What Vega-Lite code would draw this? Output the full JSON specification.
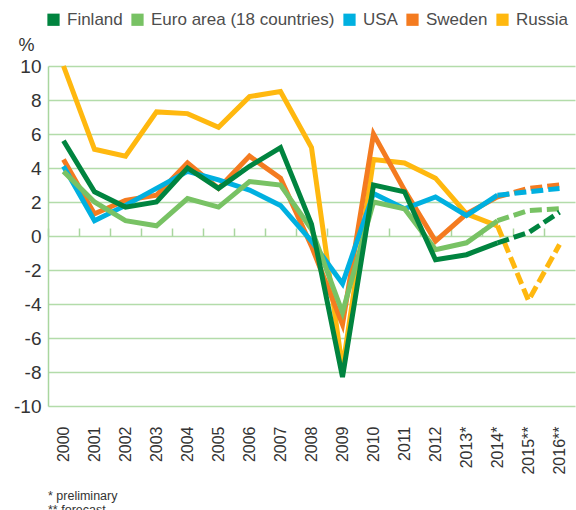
{
  "$schema": "https://vega.github.io/schema/vega-lite/v6.json",
  "autosize": {"type": "none"},
  "width": 527,
  "height": 340,
  "padding": {"left": 48, "top": 66, "right": 1, "bottom": 104},
  "config": {
    "font": "Liberation Sans",
    "view": {"stroke": null},
    "axis": {"labelFont": "Liberation Sans", "titleFont": "Liberation Sans"},
    "axisY": {"labelOverlap": false},
    "axisQuantitative": {"labelOverlap": false}
  },
  "title": {
    "text": ["* preliminary", "** forecast"],
    "orient": "bottom",
    "anchor": "start",
    "frame": "group",
    "offset": 16,
    "fontSize": 12.5,
    "fontWeight": "normal",
    "color": "#333333",
    "lineHeight": 14
  },
  "data": {
    "values": [
      {"country": "Russia", "yr": 2000, "year": "2000", "gdp": 10.0},
      {"country": "Russia", "yr": 2001, "year": "2001", "gdp": 5.1},
      {"country": "Russia", "yr": 2002, "year": "2002", "gdp": 4.7},
      {"country": "Russia", "yr": 2003, "year": "2003", "gdp": 7.3},
      {"country": "Russia", "yr": 2004, "year": "2004", "gdp": 7.2},
      {"country": "Russia", "yr": 2005, "year": "2005", "gdp": 6.4},
      {"country": "Russia", "yr": 2006, "year": "2006", "gdp": 8.2},
      {"country": "Russia", "yr": 2007, "year": "2007", "gdp": 8.5},
      {"country": "Russia", "yr": 2008, "year": "2008", "gdp": 5.2},
      {"country": "Russia", "yr": 2009, "year": "2009", "gdp": -7.8},
      {"country": "Russia", "yr": 2010, "year": "2010", "gdp": 4.5},
      {"country": "Russia", "yr": 2011, "year": "2011", "gdp": 4.3},
      {"country": "Russia", "yr": 2012, "year": "2012", "gdp": 3.4},
      {"country": "Russia", "yr": 2013, "year": "2013*", "gdp": 1.3},
      {"country": "Russia", "yr": 2014, "year": "2014*", "gdp": 0.6},
      {"country": "Russia", "yr": 2015, "year": "2015**", "gdp": -3.8},
      {"country": "Russia", "yr": 2016, "year": "2016**", "gdp": -0.5},
      {"country": "Sweden", "yr": 2000, "year": "2000", "gdp": 4.5},
      {"country": "Sweden", "yr": 2001, "year": "2001", "gdp": 1.3},
      {"country": "Sweden", "yr": 2002, "year": "2002", "gdp": 2.1},
      {"country": "Sweden", "yr": 2003, "year": "2003", "gdp": 2.4},
      {"country": "Sweden", "yr": 2004, "year": "2004", "gdp": 4.3},
      {"country": "Sweden", "yr": 2005, "year": "2005", "gdp": 2.8},
      {"country": "Sweden", "yr": 2006, "year": "2006", "gdp": 4.7},
      {"country": "Sweden", "yr": 2007, "year": "2007", "gdp": 3.4},
      {"country": "Sweden", "yr": 2008, "year": "2008", "gdp": -0.6},
      {"country": "Sweden", "yr": 2009, "year": "2009", "gdp": -5.2},
      {"country": "Sweden", "yr": 2010, "year": "2010", "gdp": 6.0},
      {"country": "Sweden", "yr": 2011, "year": "2011", "gdp": 2.7},
      {"country": "Sweden", "yr": 2012, "year": "2012", "gdp": -0.3},
      {"country": "Sweden", "yr": 2013, "year": "2013*", "gdp": 1.3},
      {"country": "Sweden", "yr": 2014, "year": "2014*", "gdp": 2.3},
      {"country": "Sweden", "yr": 2015, "year": "2015**", "gdp": 2.8},
      {"country": "Sweden", "yr": 2016, "year": "2016**", "gdp": 3.0},
      {"country": "USA", "yr": 2000, "year": "2000", "gdp": 4.1},
      {"country": "USA", "yr": 2001, "year": "2001", "gdp": 0.9},
      {"country": "USA", "yr": 2002, "year": "2002", "gdp": 1.8},
      {"country": "USA", "yr": 2003, "year": "2003", "gdp": 2.8},
      {"country": "USA", "yr": 2004, "year": "2004", "gdp": 3.8},
      {"country": "USA", "yr": 2005, "year": "2005", "gdp": 3.3},
      {"country": "USA", "yr": 2006, "year": "2006", "gdp": 2.7},
      {"country": "USA", "yr": 2007, "year": "2007", "gdp": 1.8},
      {"country": "USA", "yr": 2008, "year": "2008", "gdp": -0.3},
      {"country": "USA", "yr": 2009, "year": "2009", "gdp": -2.8},
      {"country": "USA", "yr": 2010, "year": "2010", "gdp": 2.5},
      {"country": "USA", "yr": 2011, "year": "2011", "gdp": 1.6},
      {"country": "USA", "yr": 2012, "year": "2012", "gdp": 2.3},
      {"country": "USA", "yr": 2013, "year": "2013*", "gdp": 1.2},
      {"country": "USA", "yr": 2014, "year": "2014*", "gdp": 2.4},
      {"country": "USA", "yr": 2015, "year": "2015**", "gdp": 2.6},
      {"country": "USA", "yr": 2016, "year": "2016**", "gdp": 2.8},
      {"country": "Euro area (18 countries)", "yr": 2000, "year": "2000", "gdp": 3.8},
      {"country": "Euro area (18 countries)", "yr": 2001, "year": "2001", "gdp": 2.0},
      {"country": "Euro area (18 countries)", "yr": 2002, "year": "2002", "gdp": 0.9},
      {"country": "Euro area (18 countries)", "yr": 2003, "year": "2003", "gdp": 0.6},
      {"country": "Euro area (18 countries)", "yr": 2004, "year": "2004", "gdp": 2.2},
      {"country": "Euro area (18 countries)", "yr": 2005, "year": "2005", "gdp": 1.7},
      {"country": "Euro area (18 countries)", "yr": 2006, "year": "2006", "gdp": 3.2},
      {"country": "Euro area (18 countries)", "yr": 2007, "year": "2007", "gdp": 3.0},
      {"country": "Euro area (18 countries)", "yr": 2008, "year": "2008", "gdp": 0.4},
      {"country": "Euro area (18 countries)", "yr": 2009, "year": "2009", "gdp": -4.5},
      {"country": "Euro area (18 countries)", "yr": 2010, "year": "2010", "gdp": 2.0},
      {"country": "Euro area (18 countries)", "yr": 2011, "year": "2011", "gdp": 1.6},
      {"country": "Euro area (18 countries)", "yr": 2012, "year": "2012", "gdp": -0.8},
      {"country": "Euro area (18 countries)", "yr": 2013, "year": "2013*", "gdp": -0.4},
      {"country": "Euro area (18 countries)", "yr": 2014, "year": "2014*", "gdp": 0.9},
      {"country": "Euro area (18 countries)", "yr": 2015, "year": "2015**", "gdp": 1.5},
      {"country": "Euro area (18 countries)", "yr": 2016, "year": "2016**", "gdp": 1.6},
      {"country": "Finland", "yr": 2000, "year": "2000", "gdp": 5.6},
      {"country": "Finland", "yr": 2001, "year": "2001", "gdp": 2.6},
      {"country": "Finland", "yr": 2002, "year": "2002", "gdp": 1.7},
      {"country": "Finland", "yr": 2003, "year": "2003", "gdp": 2.0},
      {"country": "Finland", "yr": 2004, "year": "2004", "gdp": 4.0},
      {"country": "Finland", "yr": 2005, "year": "2005", "gdp": 2.8},
      {"country": "Finland", "yr": 2006, "year": "2006", "gdp": 4.1},
      {"country": "Finland", "yr": 2007, "year": "2007", "gdp": 5.2},
      {"country": "Finland", "yr": 2008, "year": "2008", "gdp": 0.7},
      {"country": "Finland", "yr": 2009, "year": "2009", "gdp": -8.3},
      {"country": "Finland", "yr": 2010, "year": "2010", "gdp": 3.0},
      {"country": "Finland", "yr": 2011, "year": "2011", "gdp": 2.6},
      {"country": "Finland", "yr": 2012, "year": "2012", "gdp": -1.4},
      {"country": "Finland", "yr": 2013, "year": "2013*", "gdp": -1.1},
      {"country": "Finland", "yr": 2014, "year": "2014*", "gdp": -0.4},
      {"country": "Finland", "yr": 2015, "year": "2015**", "gdp": 0.2},
      {"country": "Finland", "yr": 2016, "year": "2016**", "gdp": 1.4}
    ]
  },
  "resolve": {"axis": {"x": "independent"}},
  "layer": [
    {
      "transform": [{"filter": {"field": "yr", "lte": 2014}}],
      "mark": {"type": "line", "strokeWidth": 5, "strokeJoin": "miter"},
      "encoding": {
        "x": {
          "field": "year", "type": "ordinal",
          "scale": {"type": "band", "paddingInner": 0, "paddingOuter": 0,
            "domain": ["2000","2001","2002","2003","2004","2005","2006","2007","2008","2009","2010","2011","2012","2013*","2014*","2015**","2016**"]},
          "axis": {"orient": "bottom", "title": null, "domain": false, "ticks": false, "grid": false,
            "labelAngle": -90, "labelAlign": "right", "labelBaseline": "middle",
            "labelFontSize": 16, "labelColor": "#333333", "labelPadding": 20, "labelFont": "Liberation Sans"}
        },
        "y": {
          "field": "gdp", "type": "quantitative",
          "scale": {"domain": [-10, 10], "nice": false, "zero": false},
          "axis": {"values": [-10,-8,-6,-4,-2,0,2,4,6,8,10], "title": "%", "titleAngle": 0,
            "titleX": -30, "titleY": -21, "titleAlign": "left", "titleBaseline": "middle",
            "titleFontSize": 18, "titleFontWeight": "normal", "titleColor": "#333333",
            "ticks": false, "domainColor": "#a9d69f", "domainWidth": 1.5,
            "gridColor": "#b3dcaa", "gridWidth": 1.5, "gridOpacity": 1, "labelOverlap": false,
            "labelExpr": "replace(datum.label, '\u2212', '-')",
            "labelFontSize": 19, "labelColor": "#333333", "labelPadding": 7}
        },
        "color": {
          "field": "country", "type": "nominal",
          "scale": {
            "domain": ["Finland", "Euro area (18 countries)", "USA", "Sweden", "Russia"],
            "range": ["#00843f", "#78c264", "#00b0e0", "#f47b20", "#ffb80f"]
          },
          "legend": {"title": null, "orient": "none", "legendX": -3, "legendY": -55, "direction": "horizontal",
            "symbolType": "square", "symbolSize": 150, "symbolStrokeWidth": 0, "symbolOpacity": 1,
            "labelFontSize": 17, "labelColor": "#4d4d4d", "labelOffset": 5, "columnPadding": 6,
            "labelLimit": 400, "labelFont": "Liberation Sans",
            "encode": {"symbols": {"update": {"fill": {"scale": "color", "field": "value"}, "fillOpacity": {"value": 1}}}}}
        }
      }
    },
    {
      "transform": [{"filter": {"field": "yr", "gte": 2014}}],
      "mark": {"type": "line", "strokeWidth": 5, "strokeDash": [12, 5]},
      "encoding": {
        "x": {
          "field": "year", "type": "ordinal",
          "axis": {"orient": "top", "offset": -170, "title": null, "labels": false, "domain": false,
            "ticks": true, "tickSize": 8, "tickColor": "#a9d69f", "tickWidth": 1.5, "bandPosition": 0, "grid": false}
        },
        "y": {
          "field": "gdp", "type": "quantitative",
          "axis": {"values": [-10,-8,-6,-4,-2,0,2,4,6,8,10], "labelOverlap": false,
            "labelExpr": "replace(datum.label, '\u2212', '-')"}
        },
        "color": {"field": "country", "type": "nominal"}
      }
    }
  ]
}
